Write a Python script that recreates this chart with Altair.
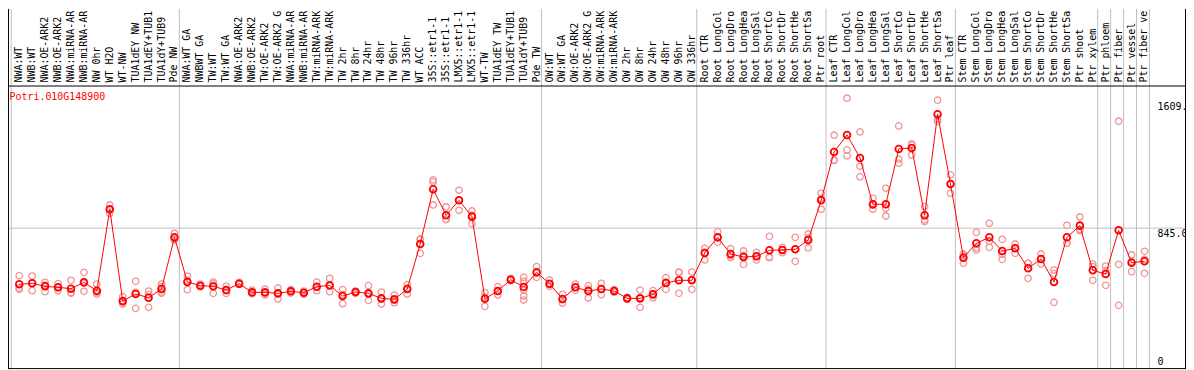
import altair as alt
import pandas as pd

# ---------------- data ----------------
g_nw = ["NWA:WT", "NWB:WT", "NWA:OE-ARK2", "NWB:OE-ARK2", "NWA:miRNA-ARK2", "NWB:miRNA-ARK2",
        "NW 0hr", "WT H2O", "WT-NW", "TUA1dEY NW", "TUA1dEY+TUB15 NW", "TUA1dY+TUB9 NW", "Pde NW"]
g_tw = ["NWA:WT GA", "NWBWT GA", "TW:WT", "TW:WT GA", "NWA:OE-ARK2 GA", "NWB:OE-ARK2 GA",
        "TW:OE-ARK2", "TW:OE-ARK2 GA", "NWA:miRNA-ARK2 GA", "NWB:miRNA-ARK2 GA", "TW:miRNA-ARK2",
        "TW:miRNA-ARK2 GA", "TW 2hr", "TW 8hr", "TW 24hr", "TW 48hr", "TW 96hr", "TW 336hr", "WT ACC",
        "35S::etr1-1 H2O", "35S::etr1-1 ACC", "LMX5::etr1-1 H2O", "LMX5::etr1-1 ACC", "WT-TW",
        "TUA1dEY TW", "TUA1dEY+TUB15 TW", "TUA1dY+TUB9 TW", "Pde TW"]
g_ow = ["OW:WT", "OW:WT GA", "OW:OE-ARK2", "OW:OE-ARK2 GA", "OW:miRNA-ARK2", "OW:miRNA-ARK2 GA",
        "OW 2hr", "OW 8hr", "OW 24hr", "OW 48hr", "OW 96hr", "OW 336hr"]
g_root = ["Root CTR", "Root LongCold", "Root LongDrought", "Root LongHeat", "Root LongSalt",
          "Root ShortCold", "Root ShortDrought", "Root ShortHeat", "Root ShortSalt", "Ptr root"]
g_leaf = ["Leaf CTR", "Leaf LongCold", "Leaf LongDrought", "Leaf LongHeat", "Leaf LongSalt",
          "Leaf ShortCold", "Leaf ShortDrought", "Leaf ShortHeat", "Leaf ShortSalt", "Ptr leaf"]
g_stem = ["Stem CTR", "Stem LongCold", "Stem LongDrought", "Stem LongHeat", "Stem LongSalt",
          "Stem ShortCold", "Stem ShortDrought", "Stem ShortHeat", "Stem ShortSalt", "Ptr shoot", "Ptr xylem"]
g_phloem = ["Ptr phloem"]
g_fiber = ["Ptr fiber"]
g_vessel = ["Ptr vessel"]
g_fv = ["Ptr fiber vessel"]

groups = [g_nw, g_tw, g_ow, g_root, g_leaf, g_stem, g_phloem, g_fiber, g_vessel, g_fv]
categories = [c for g in groups for c in g]

means_nw = [508, 514, 496, 490, 482, 520, 470, 958, 408, 450, 428, 480, 790]
means_tw = [522, 500, 496, 474, 512, 460, 460, 454, 466, 458, 494, 502, 438, 462, 454, 424, 418,
            480, 750, 1078, 922, 1012, 914, 422, 468, 536, 492, 580]
means_ow = [512, 420, 490, 468, 480, 468, 424, 424, 448, 516, 532, 532]
means_root = [696, 790, 690, 672, 676, 712, 714, 718, 774, 1012]
means_leaf = [1302, 1404, 1266, 988, 988, 1320, 1326, 922, 1528, 1110]
means_stem = [668, 754, 790, 708, 724, 604, 660, 522, 790, 860, 592]
means_tail = [570, 832, 638, 646]
means = means_nw + means_tw + means_ow + means_root + means_leaf + means_stem + means_tail

reps_nw = [[560, 486, 478], [558, 514, 470], [520, 504, 464], [512, 488, 470], [532, 454, 460],
           [580, 514, 466], [510, 450, 460], [984, 956, 934], [434, 400, 390], [526, 460, 364],
           [468, 446, 370], [510, 494, 454, 462], [814, 782, 774]]
reps_tw = [[558, 532, 476], [510, 496, 494], [522, 512, 454], [498, 470, 454], [520, 508, 508],
           [474, 454, 452], [480, 456, 444], [486, 456, 420], [476, 466, 456], [468, 458, 448],
           [522, 490, 470], [544, 498, 464], [476, 446, 392], [466, 466, 454], [500, 450, 412],
           [462, 420, 390], [444, 412, 398], [506, 484, 450], [780, 776, 694], [1134, 1122, 984],
           [972, 896, 898], [1072, 1012, 952], [948, 922, 872], [458, 432, 376], [494, 466, 444],
           [544, 534, 530], [550, 528, 514, 474, 438, 414], [614, 576, 550]]
reps_ow = [[534, 506, 496], [448, 416, 396], [510, 488, 472], [500, 478, 426], [514, 480, 446],
           [476, 468, 460], [430, 424, 418], [474, 428, 370], [470, 446, 428], [548, 522, 478],
           [582, 578, 454], [582, 536, 478]]
reps_root = [[724, 700, 654], [824, 786, 760], [722, 680, 668], [708, 680, 628], [700, 674, 654],
             [796, 672, 668], [730, 714, 698], [790, 718, 646], [810, 786, 726], [1054, 1024, 958]]
reps_leaf = [[1402, 1254, 1250], [1624, 1314, 1278], [1422, 1216, 1152], [1024, 982, 958],
             [1084, 964, 918], [1458, 1258, 1234], [1344, 1350, 1284], [974, 894, 884],
             [1612, 1498, 1484], [1164, 1112, 1054]]
reps_stem = [[690, 680, 634], [820, 728, 714], [874, 766, 730], [778, 688, 658], [750, 728, 694],
             [634, 634, 544], [690, 660, 630], [594, 572, 400], [862, 754, 754], [912, 830, 838],
             [630, 614, 532]]
reps_tail = [[618, 590, 502], [1486, 628, 382], [684, 646, 584], [706, 658, 574]]
reps = reps_nw + reps_tw + reps_ow + reps_root + reps_leaf + reps_stem + reps_tail

gene = "Potri.010G148900"
ytick_values = [1609, 845, 0]
ytick_labels = ["1609.", "845.0", "0"]

# ---------------- tables ----------------
n = len(categories)
mean_df = pd.DataFrame({"i": list(range(n)), "cat": categories, "value": means})
rep_df = pd.DataFrame([{"i": i, "value": v} for i, r in enumerate(reps) for v in r])

starts = []
s = 0
for g in groups:
    starts.append(s)
    s += len(g)
bound_df = pd.DataFrame({"b": [st - 0.62 for st in starts] + [n - 0.62]})
grid_df = pd.DataFrame({"value": [845]})
ylab_top = pd.DataFrame({"i": [n, n], "value": ytick_values[:2], "t": ytick_labels[:2]})
ylab_bot = pd.DataFrame({"i": [n], "value": ytick_values[2:], "t": ytick_labels[2:]})

W, H, TOP = 1184, 285, 77
FONT = "DejaVu Sans Mono"

xs = alt.Scale(domain=[-11.3 / 13, (W - 11.3) / 13], nice=False, zero=False)
ys = alt.Scale(domain=[0, 1700], nice=False, zero=False)
X = alt.X("i:Q", scale=xs, axis=None)
Y = alt.Y("value:Q", scale=ys, axis=None)

vlines = alt.Chart(bound_df).mark_rule(color="#C0C0C0", strokeWidth=1).encode(
    x=alt.X("b:Q", scale=xs, axis=None), y=alt.value(-TOP), y2=alt.value(H))
hline = alt.Chart(grid_df).mark_rule(color="#C0C0C0", strokeWidth=1).encode(y=Y)

frame_df = pd.DataFrame({"k": [0]})
frame_left = alt.Chart(frame_df).mark_rule(color="black").encode(
    x=alt.value(0.5), y=alt.value(-TOP), y2=alt.value(H))
frame_right = alt.Chart(frame_df).mark_rule(color="black").encode(
    x=alt.value(W - 0.5), y=alt.value(-TOP), y2=alt.value(H))
frame_top = alt.Chart(frame_df).mark_rule(color="black").encode(
    x=alt.value(0), x2=alt.value(W), y=alt.value(0.5))
frame_bot = alt.Chart(frame_df).mark_rule(color="black").encode(
    x=alt.value(0), x2=alt.value(W), y=alt.value(H - 0.5))

rep_pts = alt.Chart(rep_df).mark_point(shape="circle", filled=False, color="#F09494",
                                        size=42, strokeWidth=1.3, opacity=1).encode(x=X, y=Y)
line = alt.Chart(mean_df).mark_line(color="#FF0000", strokeWidth=1).encode(x=X, y=Y)
mean_pts = alt.Chart(mean_df).mark_point(shape="circle", filled=False, color="#FF0000",
                                         size=46, strokeWidth=1.8, opacity=1).encode(x=X, y=Y)

# long names are cut to the label band (as in the reference), with an invisible ellipsis
cat_text = alt.Chart(mean_df).mark_text(angle=270, align="left", baseline="middle", font=FONT,
                                         fontSize=10, color="black", limit=TOP - 2,
                                         ellipsis="\u200b").encode(
    x=X, y=alt.value(-3), text="cat:N")

ytop = alt.Chart(ylab_top).mark_text(align="left", baseline="top", font=FONT, fontSize=10,
                                     color="black", dy=1).encode(x=X, y=Y, text="t:N")
ybot = alt.Chart(ylab_bot).mark_text(align="left", baseline="alphabetic", font=FONT, fontSize=10,
                                     color="black", dy=-4).encode(x=X, y=Y, text="t:N")

title = alt.Chart(pd.DataFrame({"t": [gene]})).mark_text(
    align="left", baseline="middle", font=FONT, fontSize=10, color="#FF0000").encode(
    x=alt.value(1.5), y=alt.value(12), text="t:N")

chart = alt.layer(vlines, hline, frame_left, frame_right, frame_top, frame_bot,
                  rep_pts, line, mean_pts, cat_text, ytop, ybot, title).properties(
    width=W, height=H,
    autosize=alt.AutoSizeParams(type="none"),
    padding={"left": 0, "top": TOP, "right": 0, "bottom": 0},
    background="white",
).configure_view(stroke=None)

chart.save("out.html", embed_options={"renderer": "svg", "actions": False})
